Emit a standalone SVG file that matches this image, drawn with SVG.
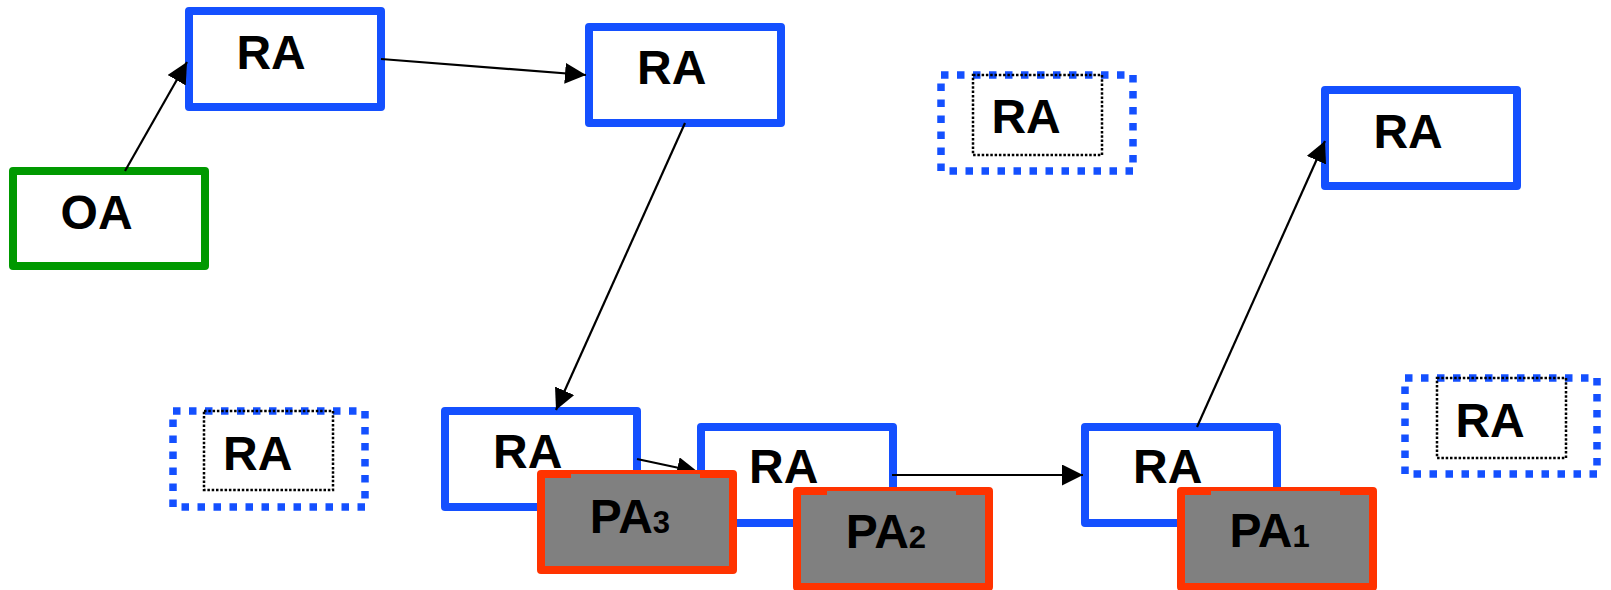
<svg xmlns="http://www.w3.org/2000/svg" width="1611" height="590" viewBox="0 0 1611 590">
  <style>
    .box { fill: #ffffff; stroke-width: 8; stroke-linejoin: round; }
    .ra { stroke: #1450ff; }
    .oa { stroke: #009900; }
    .pa { fill: #808080; stroke: #ff3300; }
    .tab { fill: #808080; }
    .ghost { fill: #ffffff; stroke: #1450ff; stroke-width: 7.5; stroke-dasharray: 7.5 8.5; }
    .inner { fill: none; stroke: #000000; stroke-width: 2.5; stroke-dasharray: 2.5 1.8; }
    .lbl { font-family: "Liberation Sans", Arial, sans-serif; font-weight: bold; font-size: 48px; fill: #000000; }
    .sub { font-size: 31px; }
    .edge { fill: none; stroke: #000000; stroke-width: 2.2; }
  </style>
  <defs>
    <marker id="arrow" markerUnits="userSpaceOnUse" markerWidth="22" markerHeight="22" refX="21" refY="10.5" orient="auto">
      <path d="M0,0 L21,10.5 L0,21 z" fill="#000000"/>
    </marker>
  </defs>

  <!-- origin agent -->
  <g id="oa">
    <rect class="box oa" x="13" y="171" width="192" height="95"/>
    <text class="lbl" x="60.6" y="229">OA</text>
  </g>

  <!-- inactive (dotted) RA nodes -->
  <g id="ra-idle-top">
    <rect class="ghost" x="941" y="75" width="192" height="96"/>
    <rect class="inner" x="973" y="75" width="129" height="80"/>
    <text class="lbl" x="991.4" y="132.7">RA</text>
  </g>
  <g id="ra-idle-left">
    <rect class="ghost" x="173" y="411" width="192" height="96"/>
    <rect class="inner" x="204" y="411" width="129" height="79"/>
    <text class="lbl" x="223" y="470">RA</text>
  </g>
  <g id="ra-idle-right">
    <rect class="ghost" x="1405" y="378" width="192" height="96"/>
    <rect class="inner" x="1437" y="378" width="129" height="80"/>
    <text class="lbl" x="1455.4" y="437">RA</text>
  </g>

  <!-- relay agents on the path -->
  <g id="ra1">
    <rect class="box ra" x="189" y="11" width="192" height="96"/>
    <text class="lbl" x="236.4" y="69">RA</text>
  </g>
  <g id="ra2">
    <rect class="box ra" x="589" y="27" width="192" height="96"/>
    <text class="lbl" x="637" y="84">RA</text>
  </g>
  <g id="ra3">
    <rect class="box ra" x="445" y="411" width="192" height="96"/>
    <text class="lbl" x="493" y="468">RA</text>
  </g>
  <g id="ra4">
    <rect class="box ra" x="701" y="427" width="192" height="96"/>
    <text class="lbl" x="749" y="483">RA</text>
  </g>
  <g id="ra5">
    <rect class="box ra" x="1085" y="427" width="192" height="96"/>
    <text class="lbl" x="1133" y="483">RA</text>
  </g>
  <g id="ra6">
    <rect class="box ra" x="1325" y="90" width="192" height="96"/>
    <text class="lbl" x="1373.4" y="148">RA</text>
  </g>

  <!-- connectors -->
  <g id="connectors">
    <line class="edge" x1="125" y1="171" x2="187" y2="62" marker-end="url(#arrow)"/>
    <line class="edge" x1="381" y1="59" x2="586" y2="75" marker-end="url(#arrow)"/>
    <line class="edge" x1="685" y1="123" x2="556" y2="410" marker-end="url(#arrow)"/>
    <line class="edge" x1="637" y1="459" x2="698" y2="472" marker-end="url(#arrow)"/>
    <line class="edge" x1="892" y1="475" x2="1083" y2="475" marker-end="url(#arrow)"/>
    <line class="edge" x1="1197" y1="427" x2="1325" y2="141" marker-end="url(#arrow)"/>
  </g>

  <!-- proxy agents -->
  <g id="pa3">
    <rect class="box pa" x="541" y="474" width="192" height="96"/>
    <rect class="tab" x="571" y="474" width="129" height="4.5"/>
    <text class="lbl" x="589.7" y="532.5">PA<tspan class="sub">3</tspan></text>
  </g>
  <g id="pa2">
    <rect class="box pa" x="797" y="491" width="192" height="96"/>
    <rect class="tab" x="827" y="491" width="129" height="4.5"/>
    <text class="lbl" x="845.7" y="547.5">PA<tspan class="sub">2</tspan></text>
  </g>
  <g id="pa1">
    <rect class="box pa" x="1181" y="491" width="192" height="96"/>
    <rect class="tab" x="1211" y="491" width="129" height="4.5"/>
    <text class="lbl" x="1229.4" y="546.5">PA<tspan class="sub">1</tspan></text>
  </g>
</svg>
